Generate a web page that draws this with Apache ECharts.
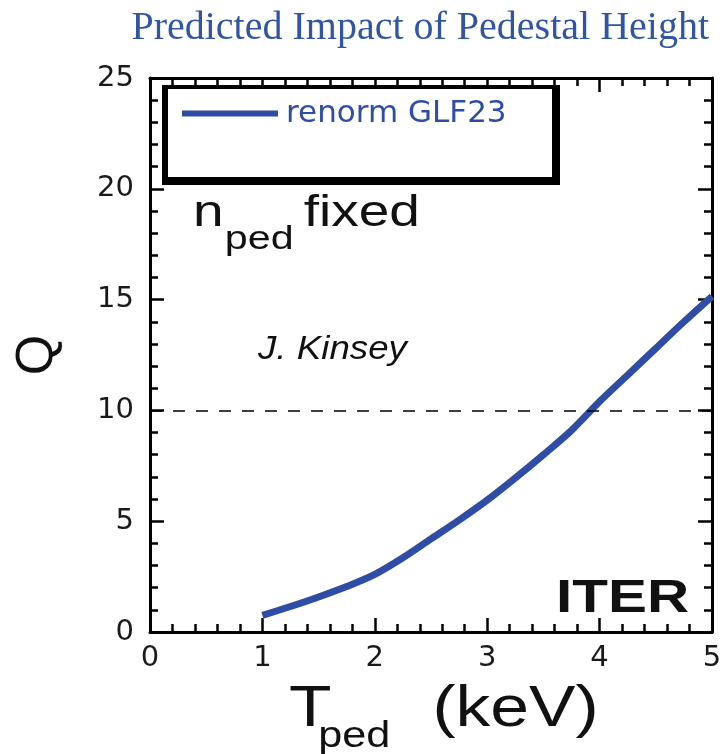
<!DOCTYPE html>
<html>
<head>
<meta charset="utf-8">
<script src="https://cdn.jsdelivr.net/npm/echarts@6/dist/echarts.min.js"></script>
<style>
html,body{margin:0;padding:0;background:#fff;}
#chart{width:723px;height:754px;}
</style>
</head>
<body>
<div id="chart"></div>
<script>
// ---- data ----
var titleText = 'Predicted Impact of Pedestal Height';
var seriesName = 'renorm GLF23';
var tPed = [1.0, 1.25, 1.5, 1.75, 2.0, 2.25, 2.5, 2.75, 3.0, 3.25, 3.5, 3.75, 4.0, 4.25, 4.5, 4.75, 5.0];
var qValues = [0.75, 1.15, 1.58, 2.05, 2.6, 3.35, 4.2, 5.05, 5.95, 6.95, 8.0, 9.1, 10.4, 11.6, 12.8, 14.0, 15.15];
var qTarget = 10;
var xTicks = [0, 1, 2, 3, 4, 5];
var yTicks = [0, 5, 10, 15, 20, 25];

var chart = echarts.init(document.getElementById('chart'), null, {renderer: 'canvas'});
var BLUE = '#2f4da6';
var tickFont = 'DejaVu Sans';

function axisCommon(showLabel) {
  return {
    axisLine: {show: true, onZero: false, lineStyle: {color: '#000', width: 3}},
    axisTick: {show: true, inside: true, length: 14, lineStyle: {color: '#000', width: 2.5}},
    minorTick: {show: true, splitNumber: 5, length: 8, lineStyle: {color: '#000', width: 2.5}},
    splitLine: {show: false},
    axisLabel: {show: showLabel, color: '#1a1a1a', fontFamily: tickFont, fontSize: 29}
  };
}

var xBottom = Object.assign(axisCommon(true), {
  type: 'value', position: 'bottom', min: xTicks[0], max: xTicks[xTicks.length - 1], interval: 1
});
xBottom.axisLabel.margin = 12;
var xTop = Object.assign(axisCommon(false), {
  type: 'value', position: 'top', min: xTicks[0], max: xTicks[xTicks.length - 1], interval: 1
});
var yLeft = Object.assign(axisCommon(true), {
  type: 'value', position: 'left', min: yTicks[0], max: yTicks[yTicks.length - 1], interval: 5,
  name: 'Q', nameLocation: 'middle', nameGap: 86, nameRotate: 90,
  nameTextStyle: {fontFamily: 'Liberation Sans', fontSize: 52, color: '#111'}
});
yLeft.axisLabel.margin = 16;
var yRight = Object.assign(axisCommon(false), {
  type: 'value', position: 'right', min: yTicks[0], max: yTicks[yTicks.length - 1], interval: 5
});

var option = {
  backgroundColor: '#fff',
  animation: false,
  grid: {left: 150, right: 11, top: 78, bottom: 122, containLabel: false, outerBoundsMode: 'none'},
  xAxis: [xBottom, xTop],
  yAxis: [yLeft, yRight],
  legend: {
    show: true, left: 182, top: 98, z: 20, padding: 0,
    icon: 'rect', itemWidth: 96, itemHeight: 6, itemGap: 0,
    textStyle: {color: BLUE, fontFamily: 'DejaVu Sans', fontSize: 31, padding: [0, 0, 0, 3]},
    data: [seriesName]
  },
  graphic: [
    {type: 'rect', z: 5, shape: {x: 162, y: 85, width: 398, height: 100}, style: {fill: '#000'}},
    {type: 'rect', z: 6, shape: {x: 168, y: 89, width: 384, height: 88}, style: {fill: '#fff'}},
    {type: 'text', z: 10, x: 709, y: 8, style: {text: titleText, fill: '#3155a6', fontFamily: 'Liberation Serif', fontSize: 40, align: 'right', verticalAlign: 'top'}},
    {type: 'text', z: 10, x: 193, y: 192, scaleX: 1.25,
      style: {text: '{a|n}{b|ped}{c|fixed}', fill: '#111', verticalAlign: 'top',
        rich: {
          a: {fontFamily: 'Liberation Sans', fontSize: 44, fill: '#111', lineHeight: 64, verticalAlign: 'top'},
          b: {fontFamily: 'Liberation Sans', fontSize: 33, fill: '#111', lineHeight: 64, verticalAlign: 'bottom', padding: [0, 0, 0, 1]},
          c: {fontFamily: 'Liberation Sans', fontSize: 44, fill: '#111', lineHeight: 64, verticalAlign: 'top', padding: [0, 0, 0, 8]}
        }}},
    {type: 'text', z: 10, x: 258, y: 333, scaleX: 1.08,
      style: {text: 'J. Kinsey', fill: '#111', fontFamily: 'Liberation Sans', fontStyle: 'italic', fontSize: 34, verticalAlign: 'top'}},
    {type: 'text', z: 10, x: 556, y: 576, scaleX: 1.27,
      style: {text: 'ITER', fill: '#111', fontFamily: 'Liberation Sans', fontWeight: 'bold', fontSize: 46, verticalAlign: 'top'}},
    {type: 'text', z: 10, x: 289, y: 681, scaleX: 1.2,
      style: {text: '{a|T}{b|ped}{c|(keV)}', fill: '#111', verticalAlign: 'top',
        rich: {
          a: {fontFamily: 'Liberation Sans', fontSize: 58, fill: '#111', lineHeight: 74, verticalAlign: 'top'},
          b: {fontFamily: 'Liberation Sans', fontSize: 36, fill: '#111', lineHeight: 74, verticalAlign: 'bottom', padding: [0, 0, 0, -11]},
          c: {fontFamily: 'Liberation Sans', fontSize: 58, fill: '#111', lineHeight: 74, verticalAlign: 'top', padding: [0, 0, 0, 35]}
        }}}
  ],
  series: [{
    name: seriesName,
    type: 'line',
    xAxisIndex: 0, yAxisIndex: 0,
    data: tPed.map(function (t, i) { return [t, qValues[i]]; }),
    smooth: 0.3,
    showSymbol: false,
    symbol: 'none',
    lineStyle: {color: BLUE, width: 7},
    itemStyle: {color: BLUE},
    z: 3,
    markLine: {
      silent: true, symbol: 'none', label: {show: false},
      lineStyle: {color: '#000', width: 1.5, type: [12, 11]},
      data: [{yAxis: qTarget}]
    }
  }]
};
chart.setOption(option);
</script>
</body>
</html>
